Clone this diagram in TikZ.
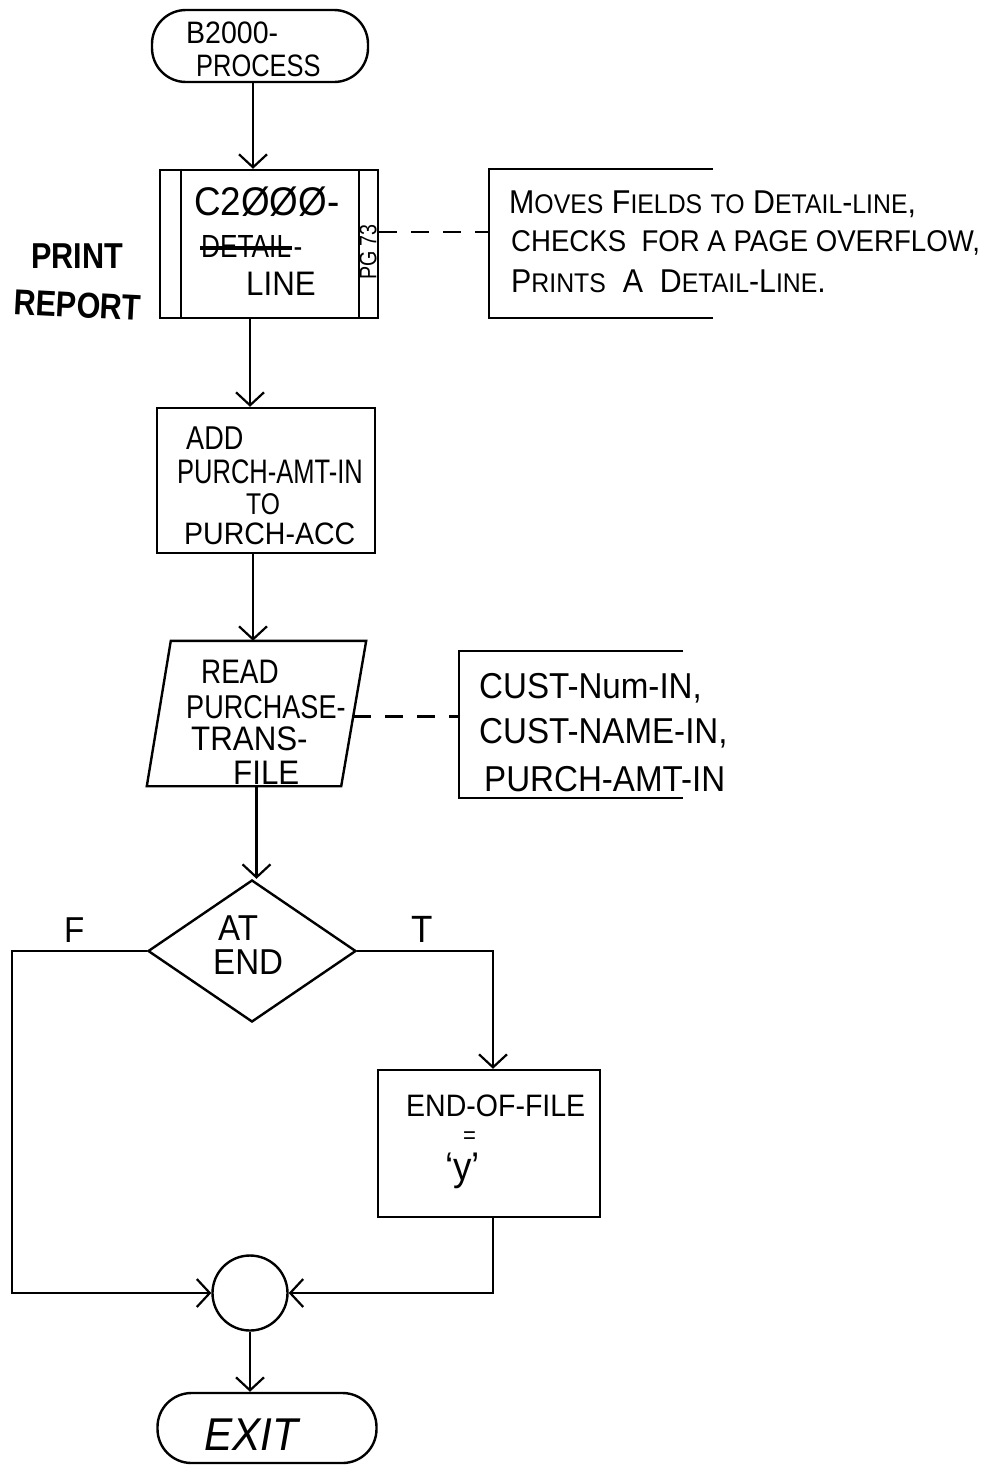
\documentclass[tikz,border=0pt]{standalone}
\usepackage{fontspec}
\newfontfamily\handA[FakeStretch=0.75]{Liberation Sans}
\newfontfamily\handB[FakeStretch=0.82]{Liberation Sans}
\newfontfamily\handC[FakeStretch=0.92]{Liberation Sans}
\newfontfamily\handb[FakeStretch=0.85]{Liberation Sans}
\usetikzlibrary{arrows.meta,shapes.geometric,calc}
\newcommand\SCx[2]{#1{\fontsize{27}{29}\selectfont #2}}
\begin{document}
\begin{tikzpicture}[x=1pt,y=-1pt,
  every path/.style={line width=2.4pt},
  arr/.style={-{Straight Barb[length=13pt,width=28pt,line width=2.2pt]}},
  dsh/.style={dash pattern=on 18pt off 14pt},
  txt/.style={font=\handA\fontsize{34}{34}\selectfont,inner sep=0pt,anchor=base west},
  txtB/.style={font=\handB\fontsize{#1}{#1}\selectfont,inner sep=0pt,anchor=base west},
  txtC/.style={font=\handC\fontsize{#1}{#1}\selectfont,inner sep=0pt,anchor=base west},
  note/.style={font=\handC\fontsize{33}{33}\selectfont,inner sep=0pt,anchor=base west},
  bold/.style={font=\handb\bfseries\fontsize{36}{36}\selectfont,inner sep=0pt,anchor=base west}]
\useasboundingbox (0,0) rectangle (985,1467);
% shapes
\node[draw,rounded corners=34pt,minimum width=216pt,minimum height=72pt] (start) at (260,46) {};
\node[draw,minimum width=218pt,minimum height=148pt] (c2000) at (269,244) {};
\draw ([xshift=22pt]c2000.north west) -- ([xshift=22pt]c2000.south west);
\draw ([xshift=-20pt]c2000.north east) -- ([xshift=-20pt]c2000.south east);
\node[minimum width=222pt,minimum height=147pt,inner sep=0pt] (note1) at (601,243.5) {};
\draw (note1.north east) -- (note1.north west) -- (note1.south west) -- (note1.south east);
\node[draw,minimum width=218pt,minimum height=145pt] (add) at (266,480.5) {};
\node[minimum width=217pt,minimum height=143pt,inner sep=0pt] (read) at (256.5,713.5) {};
\draw ([xshift=24pt]read.north west) -- (read.north east) -- ([xshift=-25pt]read.south east) -- (read.south west) -- cycle;
\node[minimum width=222pt,minimum height=145pt,inner sep=0pt] (note2) at (571,724.5) {};
\draw (note2.north east) -- (note2.north west) -- (note2.south west) -- (note2.south east);
\node[draw,diamond,minimum width=208pt,minimum height=142pt,inner sep=0pt] (dec) at (252,951) {};
\node[draw,minimum width=222pt,minimum height=147pt] (eof) at (489,1143.5) {};
\node[draw,circle,minimum size=75pt,inner sep=0pt] (join) at (250,1293) {};
\node[draw,rounded corners=34pt,minimum width=219pt,minimum height=70pt] (exit) at (267,1428) {};
% texts
\node[txtC=31] (t1a) at (185,43) {B2000-};
\node[txtB=31] (t1b) at (195,76) {PROCESS};
\node[txtC=40] (t2a) at (193,215) {C2ØØØ-};
\node[txtB=32] (t2b) at (200,257) {DETAIL};
\node[txtB=32,anchor=base west] (t2c) at (t2b.base east) {-};
\draw[line width=3.5pt] ([yshift=9pt]t2b.base west) -- ([yshift=9pt]t2b.base east);
\node[txtC=34] (t2d) at (245,295) {LINE};
\node[font=\handB\fontsize{24}{24}\selectfont,rotate=90,inner sep=0pt] (pg) at (368,252) {PG 73};
\node[bold] (pr1) at (30,268) {PRINT};
\node[bold,rotate=-3] (pr2) at (12,314) {REPORT};
\node[note] (n1a) at (508,213) {\SCx{M}{OVES} \SCx{F}{IELDS} \SCx{}{TO} \SCx{D}{ETAIL}-\SCx{}{LINE},};
\node[note,font=\handC\fontsize{30}{30}\selectfont] (n1b) at (510,251) {CHECKS\ \ FOR A PAGE OVERFLOW,};
\node[note] (n1c) at (510,292) {\SCx{P}{RINTS}\ \ A\ \ \SCx{D}{ETAIL}-\SCx{L}{INE}.};
\node[txtB=33] (t3a) at (185,449) {ADD};
\node[txt] (t3b) at (176,483) {PURCH-AMT-IN};
\node[txtB=30] (t3c) at (245,514) {TO};
\node[txtC=31] (t3d) at (183,544) {PURCH-ACC};
\node[txtB=34] (t4a) at (200,683) {READ};
\node[txtB=33] (t4b) at (185,718) {PURCHASE-};
\node[txtC=34] (t4c) at (190,750) {TRANS-};
\node[txtC=34] (t4d) at (232,784) {FILE};
\node[note,font=\handC\fontsize{36}{36}\selectfont] (n2a) at (478,698) {CUST-Num-IN,};
\node[note,font=\handC\fontsize{36}{36}\selectfont] (n2b) at (478,743) {CUST-NAME-IN,};
\node[note,font=\handC\fontsize{36}{36}\selectfont] (n2c) at (483,791) {PURCH-AMT-IN};
\node[txtC=36] (t5a) at (217,940) {AT};
\node[txtC=36] (t5b) at (212,974) {END};
\node[txtC=36] (lf) at (63,942) {F};
\node[txtC=38] (lt) at (410,942) {T};
\node[txtC=31] (t6a) at (405,1116) {END-OF-FILE};
\node[txtC=24] (t6b) at (462,1143) {=};
\node[txtC=40] (t6c) at (444,1180) {‘y’};
\node[font=\handC\itshape\fontsize{46}{46}\selectfont,inner sep=0pt,anchor=base west] (t7) at (203,1450) {EXIT};
% connectors
\draw[arr] ([xshift=-7pt]start.south) -- ([xshift=-7pt]start.south |- c2000.north);
\draw[arr] ([xshift=-19pt]c2000.south) -- ([xshift=-19pt]c2000.south |- add.north);
\draw[arr] ([xshift=-13pt]add.south) -- ([xshift=-13pt]add.south |- read.north);
\draw[arr] (read.south) -- (read.south |- dec.north);
\coordinate (fl) at (12,948);
\draw[arr] (dec.west) -- (fl |- dec.west) -- (fl |- join.west) -- (join.west);
\draw[arr] (dec.east) -| ([xshift=4pt]eof.north);
\draw[arr] ([xshift=4pt]eof.south) |- (join.east);
\draw[arr] (join.south) -- (join.south |- exit.north);
\draw[dsh] ([yshift=12pt]c2000.east) -- ([yshift=12pt]c2000.east -| note1.west);
\coordinate (rd) at ($(read.north east)!0.52!([xshift=-25pt]read.south east)$);
\draw[dsh] (rd) -- (rd -| note2.west);
\end{tikzpicture}
\end{document}
